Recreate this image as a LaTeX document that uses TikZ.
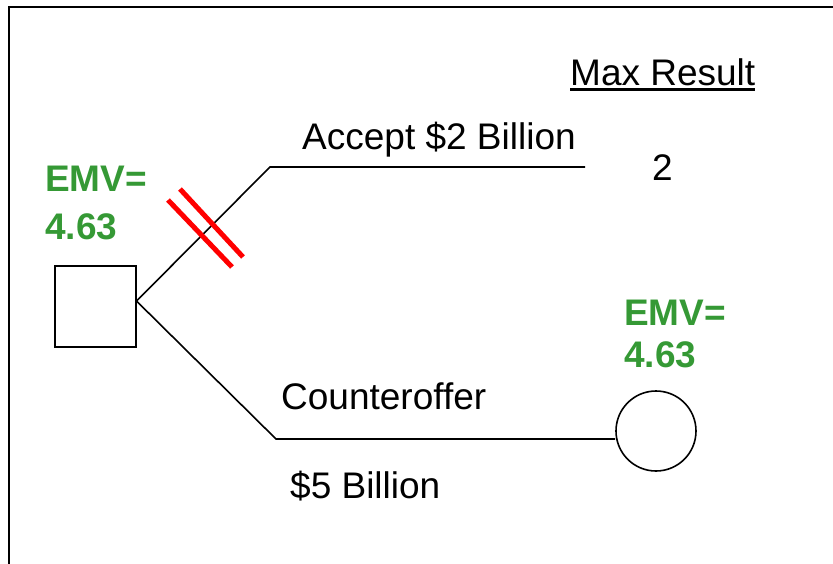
\documentclass[tikz,border=0pt]{standalone}
\usepackage{fontspec}
\setmainfont{Liberation Sans}
\definecolor{emvgreen}{RGB}{53,153,53}
\begin{document}
\begin{tikzpicture}[x=1pt,y=-1pt,
  lbl/.style={anchor=base west,inner sep=0pt,font=\fontsize{37}{44}\selectfont},
  emv/.style={lbl,text=emvgreen,font=\fontsize{37}{44}\selectfont\bfseries},
  branch/.style={line width=1.6pt},
  decision/.style={draw,line width=1.6pt,minimum size=81pt,inner sep=0pt},
  chance/.style={draw,circle,line width=1.6pt,minimum size=80pt,inner sep=0pt},
  cut/.style={draw=red,line width=5pt}]
\useasboundingbox (0,0) rectangle (833,563);
% outer frame
\draw[line width=2.4pt] (9,570) -- (9,7) -- (840,7);

% decision and chance nodes
\node[decision] (dec) at (95.5,306.5) {};
\node[chance] (ch) at (656,431) {};

% branches
\coordinate (fork) at (136.5,301);
\coordinate (upknee) at (270,167);
\coordinate (upend) at (585,167);
\coordinate (lowknee) at (276,439);
\draw[branch] (fork) -- (upknee) -- (upend);
\draw[branch] (fork) -- (lowknee) -- (lowknee -| ch.west);

% pruned branch marks
\coordinate (c1a) at (168,200); \coordinate (c1b) at (232,267);
\coordinate (c2a) at (180,189); \coordinate (c2b) at (243,257);
\draw[cut] (c1a) -- (c1b);
\draw[cut] (c2a) -- (c2b);

% labels
\node[lbl] (maxres) at (570,85) {Max Result};
\draw[line width=2.4pt] ([yshift=-4.5pt]maxres.base west) -- ([yshift=-4.5pt]maxres.base east);
\node[lbl] (acc) at (302,149) {Accept \$2 Billion};
\node[lbl] (two) at (652,180) {2};
\node[lbl] (cnt) at (281,409) {Counteroffer};
\node[lbl] (five) at (290,498) {\$5 Billion};

% expected monetary values
\node[emv] (emv1a) at (45,191) {EMV=};
\node[emv] (emv1b) at (45,239) {4.63};
\node[emv] (emv2a) at (624,325) {EMV=};
\node[emv] (emv2b) at (624,367) {4.63};
\end{tikzpicture}
\end{document}
